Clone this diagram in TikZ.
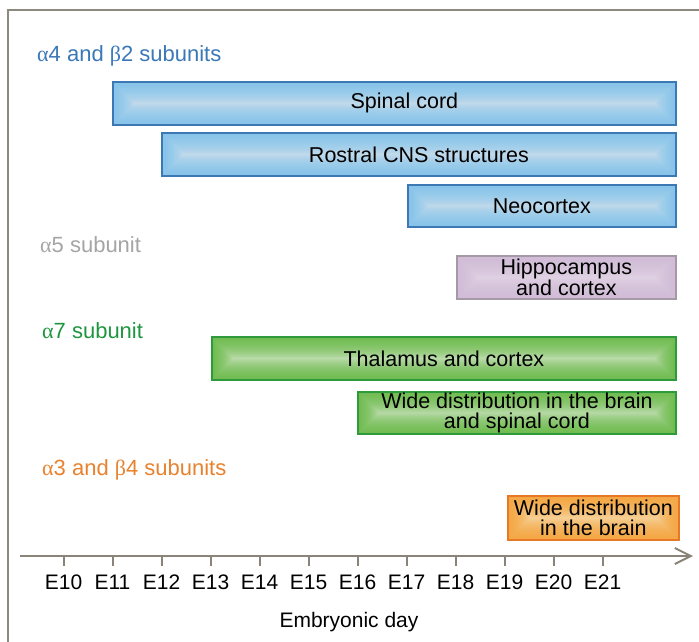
\documentclass[tikz,border=0pt]{standalone}
\usepackage{fontspec}
\setmainfont{Liberation Sans}
\newfontfamily\grk{Liberation Serif}
\usetikzlibrary{arrows.meta}
\definecolor{framecol}{HTML}{8C8A80}
\definecolor{axiscol}{HTML}{8A8478}
\definecolor{blueB}{HTML}{3C78B4}
\definecolor{blueE}{HTML}{7CC4EA}
\definecolor{blueC}{HTML}{E0E6EE}
\definecolor{greenB}{HTML}{2E9A3C}
\definecolor{greenE}{HTML}{5FB83A}
\definecolor{greenC}{HTML}{E4ECDA}
\definecolor{purpB}{HTML}{A39AA6}
\definecolor{purpE}{HTML}{D2BCD8}
\definecolor{purpC}{HTML}{E8DCEA}
\definecolor{orB}{HTML}{E67828}
\definecolor{orE}{HTML}{F4A030}
\definecolor{orC}{HTML}{FBE4BC}
\definecolor{lblue}{HTML}{3A78B8}
\definecolor{lgrey}{HTML}{A5A5A5}
\definecolor{lgreen}{HTML}{1E9640}
\definecolor{lorange}{HTML}{E8822E}
\tikzset{
  bar/.style={draw, line width=1.8pt, inner sep=0pt, align=center, anchor=north west,
    font=\fontsize{21.5}{20}\selectfont},
  glow/.style={path picture={
    \foreach \k in {1,...,26}{
      \pgfmathsetmacro\lw{2*\k}
      \draw[line width=\lw pt, draw=#1, opacity=0.065]
        (path picture bounding box.south west) rectangle (path picture bounding box.north east);
    }}},
  bluebar/.style={bar, draw=blueB, fill=blueC, glow=blueE},
  greenbar/.style={bar, draw=greenB, fill=greenC, glow=greenE},
  purpbar/.style={bar, draw=purpB, fill=purpC, glow=purpE},
  orbar/.style={bar, draw=orB, fill=orC, glow=orE},
  grouplabel/.style={anchor=base west, inner sep=0pt, font=\fontsize{22}{24}\selectfont},
  ticklabel/.style={anchor=base, inner sep=0pt, font=\fontsize{21}{24}\selectfont},
}
\begin{document}
\begin{tikzpicture}[x=1pt,y=-1pt]
\useasboundingbox (0,0) rectangle (699,642);
\fill[white] (0,0) rectangle (699,642);
% frame
\draw[framecol, line width=2pt] (8,642) -- (8,10) -- (699,10);
% group labels
\node[grouplabel, text=lblue] (g1) at (37,62) {{\grk α}4 and {\grk β}2 subunits};
\node[grouplabel, text=lgrey] (g2) at (40,252) {{\grk α}5 subunit};
\node[grouplabel, text=lgreen] (g3) at (42,338) {{\grk α}7 subunit};
\node[grouplabel, text=lorange] (g4) at (42,475) {{\grk α}3 and {\grk β}4 subunits};
% bars
\node[bluebar, minimum width=563pt, minimum height=43pt] (spinal) at (112,81) {\hspace*{20pt}Spinal cord};
\node[bluebar, minimum width=514pt, minimum height=43pt] (rostral) at (161,132) {Rostral CNS structures};
\node[bluebar, minimum width=268pt, minimum height=42pt] (neo) at (407,184) {Neocortex};
\node[purpbar, minimum width=219pt, minimum height=43pt] (hippo) at (456,255) {Hippocampus\\and cortex};
\node[greenbar, minimum width=464pt, minimum height=43pt] (thal) at (211,336) {Thalamus and cortex};
\node[greenbar, minimum width=318pt, minimum height=42pt] (widegreen) at (357,391) {Wide distribution in the brain\\and spinal cord};
\node[orbar, minimum width=171pt, minimum height=44pt] (wideor) at (507,495) {Wide distribution\\in the brain};
% axis
\coordinate (axstart) at (20,556);
\coordinate (axend) at (693,556);
\draw[axiscol, line width=2pt, -{Straight Barb[length=16pt, width=16pt, line width=2pt]}] (axstart) -- (axend);
\foreach \n [count=\i from 0] in {10,...,21}{
  \draw[axiscol, line width=2pt] (63.5+49*\i,556) -- (63.5+49*\i,566);
  \node[ticklabel] (t\n) at (63.5+49*\i,589) {E\n};
}
\node[ticklabel] (xlabel) at (349,627) {Embryonic day};
\end{tikzpicture}
\end{document}
